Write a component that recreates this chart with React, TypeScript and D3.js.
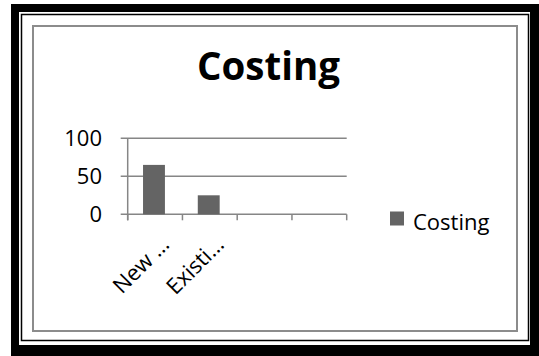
import React from "react";
import * as d3 from "d3";

const categories = ["New …", "Existi…", "", ""];
const costing = [65, 25, null, null];
const yTicks = [0, 50, 100];
const seriesName = "Costing";
const title = "Costing";

export default function App() {
  const W = 539, H = 356;
  const left = 127.7, right = 346.7, top = 138.3, bottom = 214.3;
  const xb = d3.scaleBand<string>().domain(categories.map((c, i) => String(i))).range([left, right]);
  const y = d3.scaleLinear().domain([0, 100]).range([bottom, top]);
  const font = "'Open Sans', sans-serif";
  const grid = "#868686";
  const bar = "#646464";
  const edges = xb.domain().map((d) => xb(d) as number).concat([right]);
  return (
    <svg width={W} height={H} style={{ position: "absolute", left: 0, top: 0, background: "#fff" }}>
      {/* outer frames */}
      <rect x={11} y={4} width={528} height={352} fill="#000" />
      <rect x={19} y={12} width={511} height={333} fill="#fff" />
      <rect x={21.5} y={14.5} width={507} height={326} fill="none" stroke="#000" strokeWidth={1.5} />
      <rect x={33} y={26} width={484} height={305} fill="#fff" stroke="#8c8c8c" strokeWidth={2} />
      {/* title */}
      <text x={268.5} y={80} textAnchor="middle" fontFamily={font} fontWeight="bold" fontSize={38.5} fill="#000">{title}</text>
      {/* gridlines */}
      {yTicks.map((t) => (
        <g key={t}>
          <line x1={left - 7} x2={right} y1={y(t)} y2={y(t)} stroke={grid} strokeWidth={1.5} />
          <text x={102} y={y(t) + 8} textAnchor="end" fontFamily={font} fontSize={22} fill="#000">{t}</text>
        </g>
      ))}
      {/* y axis */}
      <line x1={left} x2={left} y1={top} y2={bottom + 6} stroke={grid} strokeWidth={1.5} />
      {edges.map((e, i) => (
        <line key={i} x1={e} x2={e} y1={bottom} y2={bottom + 6} stroke={grid} strokeWidth={1.5} />
      ))}
      {/* bars */}
      {costing.map((v, i) =>
        v == null ? null : (
          <rect key={i} x={(xb(String(i)) as number) + xb.bandwidth() * 0.28} width={xb.bandwidth() * 0.4} y={y(v)} height={bottom - y(v)} fill={bar} />
        )
      )}
      {/* x labels */}
      {categories.map((c, i) => {
        const cx = (xb(String(i)) as number) + xb.bandwidth() / 2 + 15.5;
        const cy = 246;
        return (
          <text key={i} transform={`translate(${cx},${cy}) rotate(-45)`} textAnchor="end" fontFamily={font} fontSize={22} fill="#000">{c}</text>
        );
      })}
      {/* legend */}
      <rect x={390} y={211.5} width={14} height={14} fill={bar} />
      <text x={413} y={230} fontFamily={font} fontSize={22} fill="#000">{seriesName}</text>
    </svg>
  );
}
